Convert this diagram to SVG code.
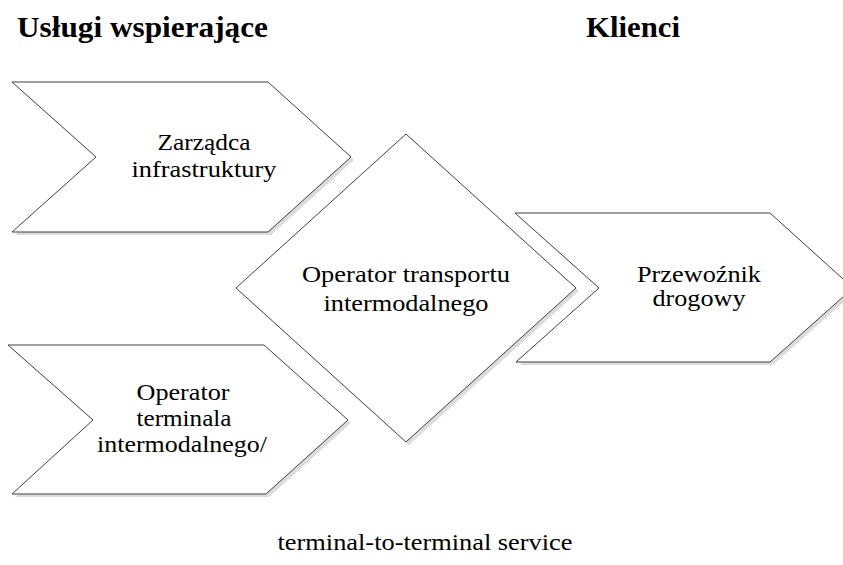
<svg xmlns="http://www.w3.org/2000/svg" width="843" height="565" viewBox="0 0 843 565">
<style>
.shape{fill:#ffffff;stroke:#404040;stroke-width:1}
.shadow{fill:#dcdcdc;stroke:none}
.lbl{font-size:24px;fill:#000;text-anchor:middle}
.hdr{font-size:30px;font-weight:bold;fill:#000}
</style>
<rect width="843" height="565" fill="#ffffff"/>
<g font-family="Liberation Serif, Tinos, Times New Roman, DejaVu Serif, serif">
<text class="hdr" x="17" y="37" textLength="251" lengthAdjust="spacingAndGlyphs">Usługi wspierające</text>
<text class="hdr" x="586" y="37" textLength="94" lengthAdjust="spacingAndGlyphs">Klienci</text>
<g id="zarzadca">
<polygon class="shadow" points="15,85 271,85 354,160 271,235 15,235 99,160"/>
<polygon class="shape" points="12,82 268,82 351,157 268,232 12,232 96,157"/>
<text class="lbl" x="204" y="150" textLength="93" lengthAdjust="spacingAndGlyphs">Zarządca</text>
<text class="lbl" x="204" y="177" textLength="145" lengthAdjust="spacingAndGlyphs">infrastruktury</text>
</g>
<g id="operator-terminala">
<polygon class="shadow" points="11,348 267,348 351,423 269,497 15,497 96,423"/>
<polygon class="shape" points="8,345 264,345 348,420 266,494 12,494 93,420"/>
<text class="lbl" x="183" y="400" textLength="93" lengthAdjust="spacingAndGlyphs">Operator</text>
<text class="lbl" x="184" y="426" textLength="95" lengthAdjust="spacingAndGlyphs">terminala</text>
<text class="lbl" x="182" y="452" textLength="170" lengthAdjust="spacingAndGlyphs">intermodalnego/</text>
</g>
<g id="operator-transportu">
<polygon class="shadow" points="409,137 579,291 409,445 239,291"/>
<polygon class="shape" points="406,134 576,288 406,442 236,288"/>
<text class="lbl" x="406" y="282" textLength="208" lengthAdjust="spacingAndGlyphs">Operator transportu</text>
<text class="lbl" x="406" y="311" textLength="165" lengthAdjust="spacingAndGlyphs">intermodalnego</text>
</g>
<g id="przewoznik">
<polygon class="shadow" points="518,216 773,216 856,291 773,365 519,365 602,291"/>
<polygon class="shape" points="515,213 770,213 853,288 770,362 516,362 599,288"/>
<text class="lbl" x="699" y="282" textLength="124" lengthAdjust="spacingAndGlyphs">Przewoźnik</text>
<text class="lbl" x="699" y="306" textLength="93" lengthAdjust="spacingAndGlyphs">drogowy</text>
</g>
<g id="connectors"></g>
<text class="lbl" x="425" y="550" textLength="295" lengthAdjust="spacingAndGlyphs">terminal-to-terminal service</text>
</g>
</svg>
